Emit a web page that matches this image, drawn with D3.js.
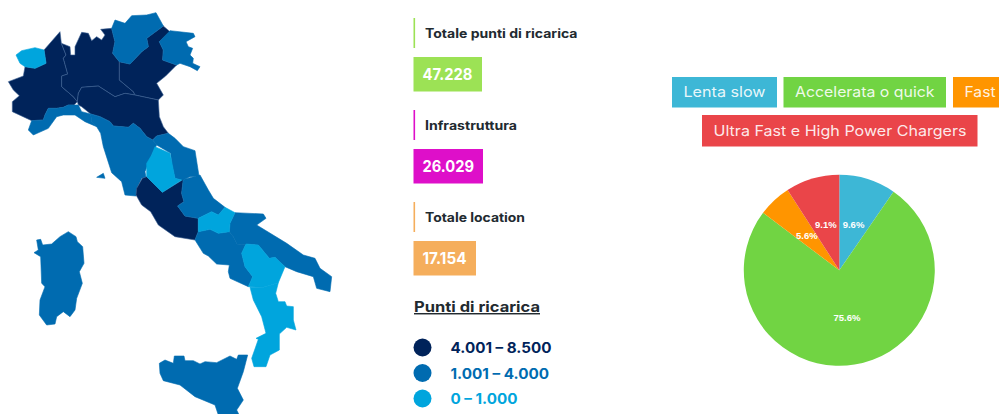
<!DOCTYPE html>
<html>
<head>
<meta charset="utf-8">
<script src="https://cdn.jsdelivr.net/npm/d3@7"></script>
<style>
  html, body { margin: 0; background: #fff; overflow: hidden; }
  svg { display: block; }
  text { font-family: Inter, "Open Sans", sans-serif; }
</style>
</head>
<body>
<div id="chart"></div>
<script>
// Stat blocks
const statLabels = ['Totale punti di ricarica', 'Infrastruttura', 'Totale location'];
const statValues = ['47.228', '26.029', '17.154'];

// Map legend
const legendTitle = 'Punti di ricarica';
const tierLabels = ['4.001 – 8.500', '1.001 – 4.000', '0 – 1.000'];

// Pie
const chargerTypes = ['Lenta slow', 'Accelerata o quick', 'Fast', 'Ultra Fast e High Power Chargers'];
const chargerShares = [9.6, 75.6, 5.6, 9.1];

// Region outlines. Each panel has its own map units.
// Tier: 0 = 4.001-8.500, 1 = 1.001-4.000, 2 = 0-1.000
const northRegions = [
  { name: "Valle d'Aosta", tier: 2, outline: [[48,165],[65,152],[105,143],[132,150],[138,190],[105,205],[75,200],[60,190]] },
  { name: 'Piemonte', tier: 0, outline: [[132,150],[180,95],[184,130],[198,165],[190,175],[203,222],[185,228],[185,260],[220,290],[232,305],[222,315],[205,315],[190,322],[170,325],[145,325],[135,345],[130,360],[95,362],[37,335],[37,305],[58,287],[40,270],[25,245],[70,228],[75,200],[105,205],[138,190]] },
  { name: 'Lombardia', tier: 0, outline: [[184,130],[210,140],[212,165],[225,165],[225,140],[245,97],[265,100],[275,122],[290,110],[305,120],[315,105],[302,88],[335,85],[345,125],[338,160],[358,185],[358,240],[400,275],[405,285],[375,280],[345,290],[295,258],[245,262],[235,280],[232,305],[220,290],[185,260],[185,228],[203,222],[190,175],[198,165]] },
  { name: 'Trentino-Alto Adige', tier: 1, outline: [[345,60],[375,70],[395,47],[440,45],[468,38],[490,78],[440,115],[445,140],[425,155],[390,192],[358,185],[338,160],[345,125],[335,85]] },
  { name: 'Veneto', tier: 0, outline: [[490,78],[510,95],[478,125],[490,150],[488,180],[530,195],[497,228],[470,250],[490,285],[475,300],[405,285],[400,275],[358,240],[358,185],[390,192],[425,155],[445,140],[440,115]] },
  { name: 'Friuli-Venezia Giulia', tier: 1, outline: [[510,92],[580,100],[585,110],[558,125],[565,140],[578,145],[570,165],[580,175],[578,190],[600,200],[592,212],[570,200],[540,190],[530,195],[488,180],[490,150],[478,125]] },
  { name: 'Emilia-Romagna', tier: 0, outline: [[232,305],[235,280],[245,262],[295,258],[345,290],[375,280],[405,285],[475,300],[478,350],[490,380],[505,400],[470,408],[458,420],[440,410],[420,385],[400,370],[385,382],[340,378],[330,365],[300,350],[272,342],[245,320],[235,315]] },
  { name: 'Liguria', tier: 1, outline: [[85,390],[95,362],[130,360],[135,345],[145,325],[170,325],[190,322],[205,315],[222,315],[235,315],[245,335],[272,342],[275,365],[290,380],[255,365],[225,345],[190,345],[170,350],[145,385],[100,405]] },
  { name: 'Toscana', tier: 1, outline: [[272,342],[300,350],[330,365],[340,378],[385,382],[400,370],[420,385],[440,410],[458,420],[470,435],[455,465],[445,490],[435,515],[438,532],[425,535],[412,562],[408,588],[375,585],[365,545],[335,518],[310,440],[302,400],[290,380],[275,365]] },
  { name: 'Elba', tier: 1, outline: [[290,532],[310,520],[315,535]] },
  { name: 'Marche', tier: 1, outline: [[458,420],[470,408],[505,400],[525,415],[550,440],[585,452],[597,528],[570,530],[548,541],[525,535],[515,490],[512,460],[470,435]] }
];

const southRegions = [
  { name: 'Umbria', tier: 2, outline: [[75,50],[120,70],[135,145],[155,150],[97,187],[50,140],[50,100],[65,75]] },
  { name: 'Lazio', tier: 0, outline: [[37,145],[50,140],[97,187],[160,148],[155,190],[162,215],[143,228],[165,258],[205,265],[205,305],[195,330],[135,320],[85,285],[62,245],[35,225],[18,195],[20,175]] },
  { name: 'Abruzzo', tier: 1, outline: [[155,150],[210,135],[235,180],[250,205],[285,232],[265,255],[245,245],[225,255],[205,265],[165,258],[143,228],[162,215],[155,190],[160,148]] },
  { name: 'Molise', tier: 2, outline: [[205,265],[225,255],[245,245],[265,255],[285,232],[315,248],[300,280],[298,305],[265,310],[240,298],[205,305]] },
  { name: 'Puglia', tier: 1, outline: [[315,248],[400,252],[408,265],[380,285],[470,340],[520,375],[555,385],[570,415],[605,440],[600,485],[560,475],[550,440],[500,425],[465,410],[435,382],[418,385],[385,345],[348,342],[322,345],[310,320],[298,305],[300,280]] },
  { name: 'Campania', tier: 1, outline: [[205,305],[240,298],[265,310],[298,305],[310,320],[322,345],[348,342],[335,370],[345,410],[368,440],[355,470],[300,445],[295,425],[298,405],[260,402],[235,378],[220,370],[195,330]] },
  { name: 'Basilicata', tier: 2, outline: [[348,342],[385,345],[418,385],[435,382],[465,410],[445,458],[400,472],[355,470],[368,440],[345,410],[335,370]] },
  { name: 'Calabria', tier: 2, outline: [[360,472],[400,472],[445,458],[437,490],[445,515],[465,515],[470,528],[490,530],[490,570],[498,600],[470,592],[448,612],[448,660],[420,675],[408,710],[372,710],[365,685],[385,628],[378,625],[408,610],[395,560],[370,510]] },
  { name: 'Sicilia', tier: 1, outline: [[88,700],[105,690],[130,700],[133,678],[162,678],[165,692],[190,692],[210,702],[225,695],[260,698],[300,678],[320,688],[325,675],[353,675],[340,725],[322,775],[340,810],[320,840],[335,870],[270,870],[255,825],[195,800],[150,765],[100,752],[90,730]] }
];

const islandRegions = [
  { name: 'Sardegna', tier: 1, outline: [[50,60],[62,58],[68,75],[95,72],[120,50],[145,35],[168,50],[172,65],[188,80],[192,130],[178,155],[187,190],[170,235],[165,270],[150,290],[130,275],[110,290],[105,312],[80,315],[58,285],[60,240],[75,200],[65,190],[62,110],[42,98],[55,90]] }
];

const width = 999;
const height = 414;

const tierColors = ['#00235a', '#006bb0', '#00a5dd'];
const tierStrokes = ['#3a5f92', '#006bb0', '#00a5dd'];
const statColors = ['#9ce255', '#de0fc9', '#f5ae5c'];
const chargerColors = ['#3db7d6', '#71d443', '#ff9500', '#ea4549'];

const svg = d3.select('#chart').append('svg')
  .attr('width', width)
  .attr('height', height);

// ---- map ----
function drawPanel(regions, domainX, rangeX, domainY, rangeY) {
  const x = d3.scaleLinear().domain(domainX).range(rangeX);
  const y = d3.scaleLinear().domain(domainY).range(rangeY);
  const line = d3.line().x(d => x(d[0])).y(d => y(d[1])).curve(d3.curveLinearClosed);

  // dark regions first so the lighter ones sit on their outlines
  const ordered = regions.slice().sort((a, b) => a.tier - b.tier);

  svg.append('g').selectAll('path')
    .data(ordered)
    .join('path')
    .attr('d', d => line(d.outline))
    .attr('fill', d => tierColors[d.tier])
    .attr('stroke', d => tierStrokes[d.tier])
    .attr('stroke-width', 0.6)
    .attr('stroke-linejoin', 'round');
}

drawPanel(northRegions, [0, 600], [0, 200], [0, 630], [0, 210]);
drawPanel(southRegions, [0, 630], [130, 340], [0, 852], [130, 414]);
drawPanel(islandRegions, [0, 240], [20, 100], [0, 330], [220, 330]);

// ---- stat blocks ----
const statTop = d3.scalePoint().domain(d3.range(statLabels.length)).range([18, 202]);
const statBoxWidths = [68.5, 69.5, 62.5];
const statLabelWidths = [152.5, 92, 100];
const statValueWidths = [50, 51.5, 44];

const stats = svg.append('g').selectAll('g')
  .data(statLabels)
  .join('g')
  .attr('transform', (d, i) => `translate(413.5,${statTop(i)})`);

stats.append('rect')
  .attr('width', 1.6)
  .attr('height', 30)
  .attr('fill', (d, i) => statColors[i]);

stats.append('text')
  .attr('x', 11.5)
  .attr('y', 20)
  .attr('font-size', 12.5)
  .attr('font-weight', 700)
  .attr('fill', '#222a30')
  .attr('textLength', (d, i) => statLabelWidths[i])
  .attr('lengthAdjust', 'spacingAndGlyphs')
  .text(d => d);

stats.append('rect')
  .attr('y', 39)
  .attr('width', (d, i) => statBoxWidths[i])
  .attr('height', 34.5)
  .attr('fill', (d, i) => statColors[i]);

stats.append('text')
  .attr('x', 9)
  .attr('y', 62)
  .attr('font-size', 16)
  .attr('font-weight', 700)
  .attr('fill', '#fff')
  .attr('textLength', (d, i) => statValueWidths[i])
  .attr('lengthAdjust', 'spacingAndGlyphs')
  .text((d, i) => statValues[i]);

// ---- map legend ----
svg.append('text')
  .attr('x', 414)
  .attr('y', 312)
  .attr('font-size', 14.5)
  .attr('font-weight', 700)
  .attr('fill', '#222a30')
  .attr('text-decoration', 'underline')
  .attr('textLength', 126)
  .attr('lengthAdjust', 'spacingAndGlyphs')
  .text(legendTitle);

const legendY = d3.scalePoint().domain(d3.range(tierLabels.length)).range([347.5, 398.5]);
const legendWidths = [101, 98.5, 67];

const legend = svg.append('g').selectAll('g')
  .data(tierLabels)
  .join('g')
  .attr('transform', (d, i) => `translate(422.5,${legendY(i)})`);

legend.append('circle')
  .attr('r', 9)
  .attr('fill', (d, i) => tierColors[i]);

legend.append('text')
  .attr('x', 28)
  .attr('y', 5.5)
  .attr('font-size', 14.5)
  .attr('font-weight', 700)
  .attr('fill', (d, i) => tierColors[i])
  .attr('textLength', (d, i) => legendWidths[i])
  .attr('lengthAdjust', 'spacingAndGlyphs')
  .text(d => d);

// ---- pie buttons ----
const buttonBoxes = [
  { x: 672, y: 77, w: 105, h: 30.5, textW: 82 },
  { x: 783.5, y: 77, w: 162.5, h: 30.5, textW: 139.5 },
  { x: 953, y: 77, w: 60, h: 30.5, textW: 31 },
  { x: 702, y: 115, w: 275.5, h: 31.5, textW: 253 }
];

const buttons = svg.append('g').selectAll('g')
  .data(chargerTypes)
  .join('g')
  .attr('transform', (d, i) => `translate(${buttonBoxes[i].x},${buttonBoxes[i].y})`);

buttons.append('rect')
  .attr('width', (d, i) => buttonBoxes[i].w)
  .attr('height', (d, i) => buttonBoxes[i].h)
  .attr('fill', (d, i) => chargerColors[i]);

buttons.append('text')
  .attr('x', 11.5)
  .attr('y', (d, i) => buttonBoxes[i].h / 2 + 5)
  .attr('font-size', 14.5)
  .attr('fill', '#fff')
  .attr('fill-opacity', 0.9)
  .attr('textLength', (d, i) => buttonBoxes[i].textW)
  .attr('lengthAdjust', 'spacingAndGlyphs')
  .text(d => d);

// ---- pie ----
const radius = 95.5;
const pie = d3.pie().sort(null).value(d => d);
const arc = d3.arc().innerRadius(0).outerRadius(radius);

const pieGroup = svg.append('g').attr('transform', 'translate(839.3,270.3)');

pieGroup.selectAll('path')
  .data(pie(chargerShares))
  .join('path')
  .attr('d', arc)
  .attr('fill', (d, i) => chargerColors[i]);

pieGroup.selectAll('text')
  .data(pie(chargerShares))
  .join('text')
  .attr('transform', d => `translate(${arc.centroid(d)})`)
  .attr('text-anchor', 'middle')
  .attr('dy', '0.35em')
  .attr('font-size', 9.5)
  .attr('font-weight', 700)
  .style('font-family', '"Liberation Sans", Arial, sans-serif')
  .attr('fill', '#fff')
  .text(d => d.data.toFixed(1) + '%');
</script>
</body>
</html>
